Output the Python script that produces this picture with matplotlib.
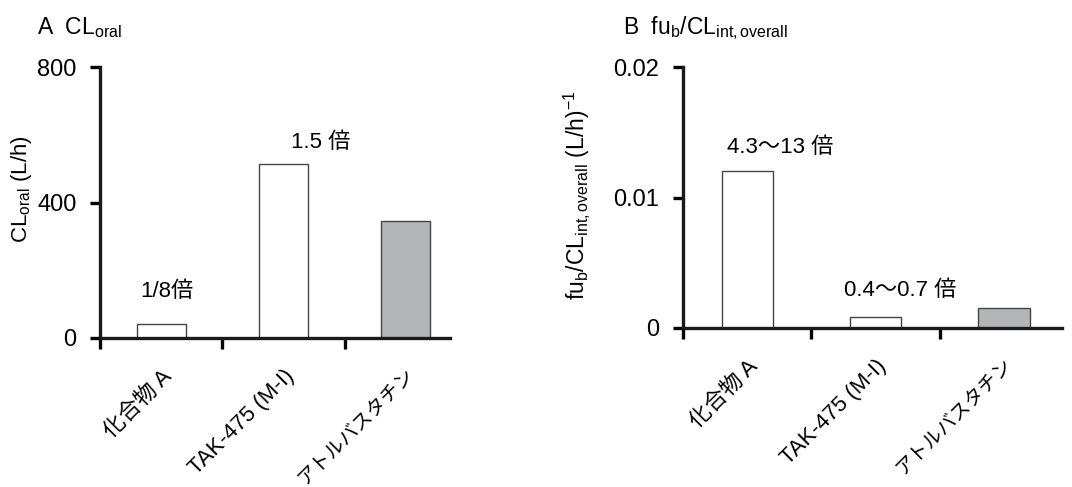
import matplotlib
matplotlib.use('Agg')
import matplotlib.pyplot as plt
import numpy as np

plt.rcParams['font.family'] = ['Liberation Sans', 'Noto Sans CJK JP']
plt.rcParams['mathtext.fontset'] = 'custom'
plt.rcParams['mathtext.rm'] = 'Liberation Sans'
plt.rcParams['mathtext.it'] = 'Liberation Sans:italic'

drugs = ['化合物 A', 'TAK-475 (M-I)', 'アトルバスタチン']
cl_oral = [41, 514, 345]
fub_clint = [0.01203, 0.00084, 0.00153]
colors = ['white', 'white', '#b4b5b8']
notes_a = ['1/8倍', '1.5 倍']
notes_b = ['4.3～13 倍', '0.4～0.7 倍']

W, H = 1072, 487
fig = plt.figure(figsize=(W / 100, H / 100), dpi=100)


def px_axes(l, r, t, b):
    return fig.add_axes([l / W, 1 - b / H, (r - l) / W, (b - t) / H])


def style(ax, ylim, yticks, ylabels, xmax):
    x = np.arange(len(drugs)) + 0.5
    ax.set_xlim(0, xmax)
    ax.set_ylim(*ylim)
    for s in ['top', 'right']:
        ax.spines[s].set_visible(False)
    for s in ['left', 'bottom']:
        ax.spines[s].set_linewidth(2.4)
        ax.spines[s].set_color('#1a1a1a')
    ax.set_yticks(yticks)
    ax.set_yticklabels(ylabels, fontsize=17)
    ax.tick_params(axis='y', direction='out', length=7, width=2.4, pad=10)
    ax.set_xticks(x)
    ax.set_xticklabels(drugs, rotation=45, ha='right', rotation_mode='anchor', fontsize=16)
    ax.get_xticklabels()[2].set_fontsize(14)
    ax.tick_params(axis='x', which='major', length=0, pad=20)
    ax.set_xticks([0, 1, 2], minor=True)
    ax.tick_params(axis='x', which='minor', direction='out', length=8, width=2.4)
    return x


# Panel A
ax1 = px_axes(100, 450, 67, 338)
x = style(ax1, (0, 800), [0, 400, 800], ['0', '400', '800'], 2.86)
ax1.bar(x, cl_oral, width=0.4, color=colors, edgecolor='#444444', linewidth=1.0)
ax1.set_ylabel(r'CL$_{\mathrm{oral}}$ (L/h)', fontsize=16)
ax1.yaxis.set_label_coords(-0.19, 0.55)
ax1.text(x[0] + 0.05, 106, notes_a[0], ha='center', va='bottom', fontsize=16)
ax1.text(x[1] + 0.3, 546, notes_a[1], ha='center', va='bottom', fontsize=16)
fig.text(37 / W, 1 - 28 / H, r'A  CL$_{\mathrm{oral}}$', fontsize=16.5, va='center')

# Panel B
ax2 = px_axes(683, 1062, 67, 328)
x = style(ax2, (0, 0.02), [0, 0.01, 0.02], ['0', '0.01', '0.02'], 2.95)
ax2.bar(x, fub_clint, width=0.4, color=colors, edgecolor='#444444', linewidth=1.0)
ax2.set_ylabel(r'fu$_{\mathrm{b}}$/CL$_{\mathrm{int,overall}}$ (L/h)$^{-1}$', fontsize=16.5)
ax2.yaxis.set_label_coords(-0.24, 0.51)
ax2.text(x[0] + 0.26, 0.0130, notes_b[0], ha='center', va='bottom', fontsize=16)
ax2.text(x[1] + 0.19, 0.00207, notes_b[1], ha='center', va='bottom', fontsize=16)
fig.text(623 / W, 1 - 28 / H, r'B  fu$_{\mathrm{b}}$/CL$_{\mathrm{int,overall}}$', fontsize=16.5, va='center')

fig.savefig('out.png', dpi=100)
